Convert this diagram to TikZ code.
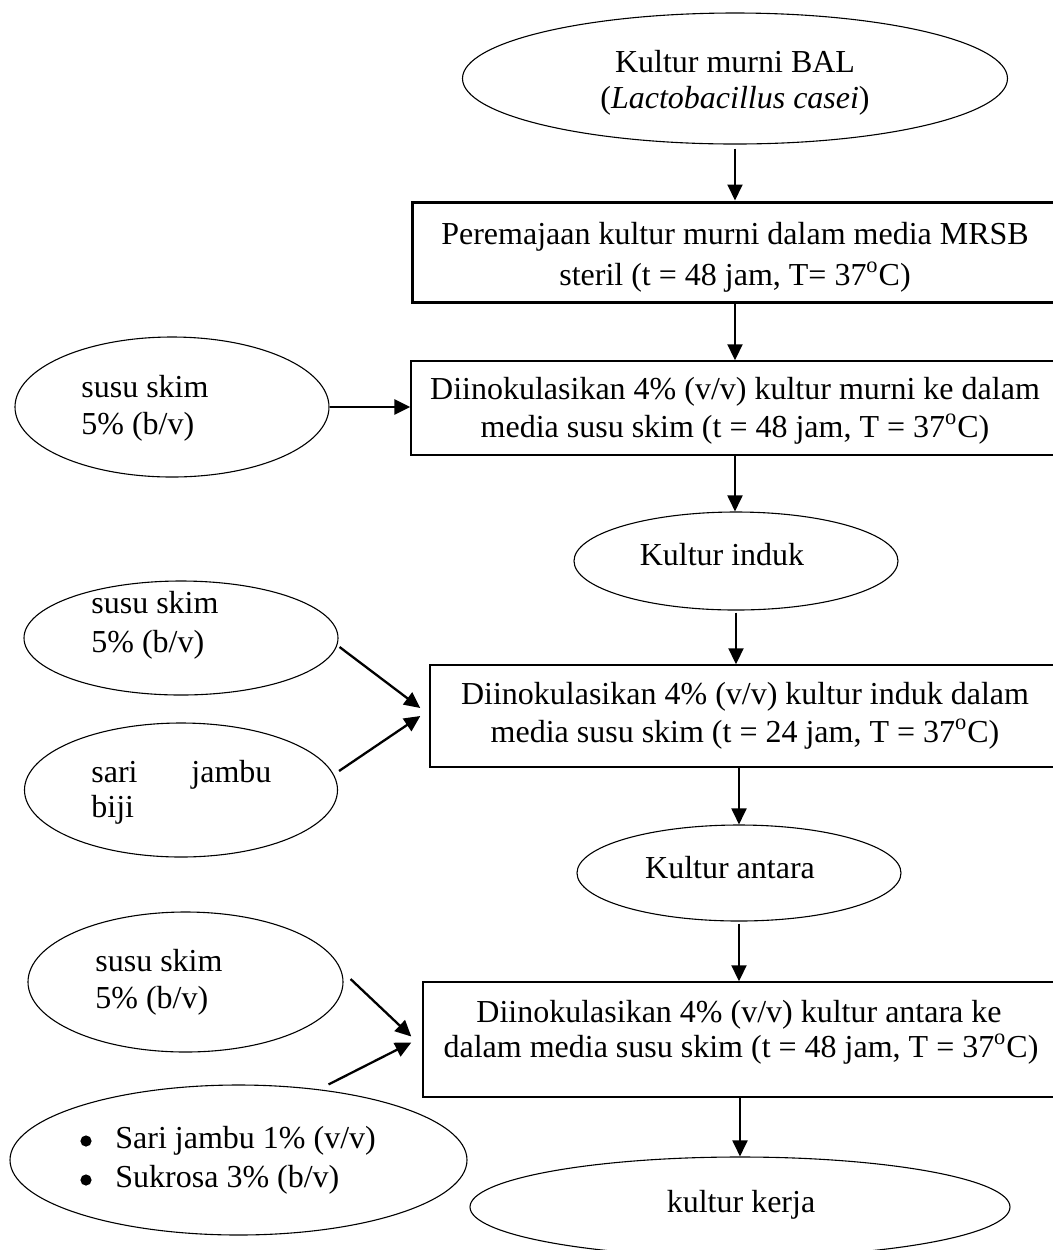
\documentclass[tikz,border=0pt]{standalone}
\usepackage{fontspec}
\setmainfont{Liberation Serif}
\usetikzlibrary{arrows.meta,shapes.geometric}
\begin{document}
\begin{tikzpicture}[x=0.5pt,y=-0.5pt,
  every node/.style={font=\fontsize{16}{19.5}\selectfont},
  ell/.style={draw,ellipse,inner sep=0pt,line width=0.55pt},
  flowbox/.style={draw,rectangle,inner sep=0pt,line width=0.7pt},
  thickbox/.style={draw,rectangle,inner sep=0pt,line width=1.5pt},
  txt/.style={inner sep=0pt,anchor=base},
  ltxt/.style={inner sep=0pt,anchor=base west},
  bul/.style={circle,fill=black,inner sep=0pt,minimum size=5.6pt},
  arr/.style={-{Triangle[length=8pt,width=7.5pt]},line width=0.95pt},
  sarr/.style={-{Triangle[length=8pt,width=7.5pt]},line width=1.15pt},
  harr/.style={-{Triangle[length=8pt,width=7.5pt]},line width=1.4pt},
  ]
\fill[white] (0,0) rectangle (1053,1250);
\useasboundingbox (0,0) rectangle (1053,1250);

% ---------- shapes ----------
\node[ell, minimum width=272.5pt, minimum height=65.5pt] (E1) at (735,78.5) {};
\node[thickbox, minimum width=323pt, minimum height=50pt] (B1) at (735,252) {};
\node[flowbox, minimum width=324pt, minimum height=47pt] (B2) at (735,408) {};
\node[ell, minimum width=157pt, minimum height=70pt] (E2) at (172,407) {};
\node[ell, minimum width=162pt, minimum height=49pt] (E3) at (736,561) {};
\node[flowbox, minimum width=315pt, minimum height=51pt] (B3) at (745,716) {};
\node[ell, minimum width=157pt, minimum height=57pt] (E4) at (181,638) {};
\node[ell, minimum width=156.5pt, minimum height=67pt] (E5) at (181,790) {};
\node[ell, minimum width=162pt, minimum height=48pt] (E6) at (739,873) {};
\node[flowbox, minimum width=318.5pt, minimum height=57.5pt] (B4) at (741.5,1039.5) {};
\node[ell, minimum width=157.5pt, minimum height=70pt] (E7) at (185.5,982) {};
\node[ell, minimum width=228.5pt, minimum height=75pt] (E8) at (238.5,1160) {};
\node[ell, minimum width=270pt, minimum height=50pt] (E9) at (740,1207) {};

% ---------- texts ----------
\node[txt] (t1a) at (735,72) {Kultur murni BAL};
\node[txt] (t1b) at (735,108) {(\textit{Lactobacillus casei})};
\node[txt] (t2a) at (735,244) {Peremajaan kultur murni dalam media MRSB};
\node[txt] (t2b) at (735,285) {steril (t = 48 jam, T= 37\textsuperscript{o}C)};
\node[txt] (t3a) at (735,399) {Diinokulasikan 4\% (v/v) kultur murni ke dalam};
\node[txt] (t3b) at (735,437) {media susu skim (t = 48 jam, T = 37\textsuperscript{o}C)};
\node[ltxt] (t4a) at (81,397) {susu skim};
\node[ltxt] (t4b) at (81,434) {5\% (b/v)};
\node[txt] (t5) at (722,565) {Kultur induk};
\node[ltxt] (t6a) at (91,613) {susu skim};
\node[ltxt] (t6b) at (91,652) {5\% (b/v)};
\node[ltxt] (t7a) at (91,782) {\makebox[50pt][l]{sari}jambu};
\node[ltxt] (t7b) at (91,817) {biji};
\node[txt] (t8a) at (745,704) {Diinokulasikan 4\% (v/v) kultur induk dalam};
\node[txt] (t8b) at (745,742) {media susu skim (t = 24 jam, T = 37\textsuperscript{o}C)};
\node[txt] (t9) at (730,878) {Kultur antara};
\node[ltxt] (t10a) at (95,971) {susu skim};
\node[ltxt] (t10b) at (95,1008) {5\% (b/v)};
\node[txt] (t11a) at (739,1022) {Diinokulasikan 4\% (v/v) kultur antara ke};
\node[txt] (t11b) at (741,1057) {dalam media susu skim (t = 48 jam, T = 37\textsuperscript{o}C)};
\node[bul] (bu1) at (86,1141) {};
\node[ltxt] (t12a) at (115,1148) {Sari jambu 1\% (v/v)};
\node[bul] (bu2) at (86,1180) {};
\node[ltxt] (t12b) at (115,1187) {Sukrosa 3\% (b/v)};
\node[txt] (t13) at (741,1212) {kultur kerja};

% ---------- connectors ----------
\draw[arr, shorten <=2pt] (E1.south) -- (B1.north);
\draw[arr] (B1.south) -- (B2.north);
\draw[arr] (B2.south) -- (B2.south |- E3.north);
\draw[arr, shorten <=1pt] (E3.south) -- (E3.south |- B3.north);
\draw[arr] (E6.north |- B3.south) -- (E6.north);
\draw[arr, shorten <=1pt] (E6.south) -- (E6.south |- B4.north);
\draw[arr] (E9.north |- B4.south) -- (E9.north);
\draw[harr] (E2.east) -- (E2.east -| B2.west);
\draw[sarr] ([shift={(1,9)}]E4.east) -- ([shift={(-9,-8)}]B3.west);
\draw[sarr] ([shift={(1,-19)}]E5.east) -- ([shift={(-9,0)}]B3.west);
\draw[sarr] ([shift={(7,-3)}]E7.east) -- ([shift={(-11,-3)}]B4.west);
\draw[sarr] ([shift={(90,0)}]E8.north) -- ([shift={(-11,3)}]B4.west);
\end{tikzpicture}
\end{document}
